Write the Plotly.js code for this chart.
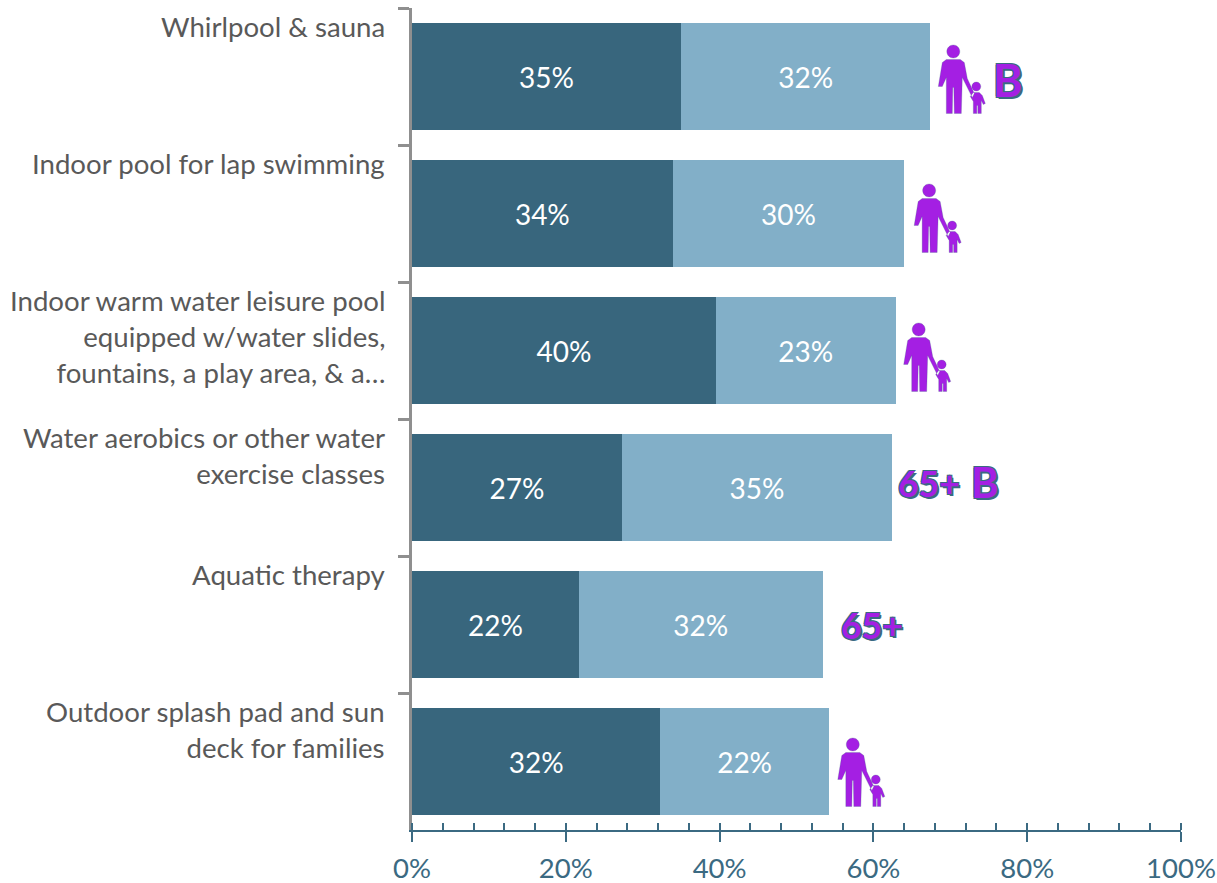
<!DOCTYPE html>
<html>
<head>
<meta charset="utf-8">
<script src="https://cdn.plot.ly/plotly-3.0.1.min.js"></script>
<style>html,body{margin:0;padding:0;background:#fff}</style>
</head>
<body>
<div id="chart" style="width:1217px;height:883px"></div>
<script>
var categories = ["Whirlpool & sauna", "Indoor pool for lap swimming",
  "Indoor warm water leisure pool<br>equipped w/water slides,<br>fountains, a play area, & a…",
  "Water aerobics or other water<br>exercise classes", "Aquatic therapy",
  "Outdoor splash pad and sun<br>deck for families"];
var darkValues = [35.0, 33.9, 39.5, 27.3, 21.7, 32.3];
var lightValues = [32.4, 30.1, 23.4, 35.1, 31.7, 21.9];
var familyIconRows = [0, 1, 2, 5];
var iconDx = [8, 10, 8, 9];
var iconDy = [-31, -29, -27, -23];
var badgeRows = [0, 3, 3, 4];
var badgeTexts = ["B", "65+", "B", "65+"];
var badgeDx = [61, 4, 77, 16];
var badgeDy = [-3, 4, 6, -1];
var badgeSizes = [45, 35.5, 42, 35.5];

var DARK = "#38667D", LIGHT = "#82AFC8", TEAL = "#3B6A82", PURPLE = "#A41FE3";
var SHADOW = "2px 2px 0 #3A6A82, -1px -1px 0 #3A6A82, 1px -1px 0 #3A6A82, -1px 1px 0 #3A6A82";

function circle(cx, cy, r) {
  var k = r * 0.5523;
  return "M" + (cx - r) + " " + cy + " C" + (cx - r) + " " + (cy - k) + " " + (cx - k) + " " + (cy - r) + " " + cx + " " + (cy - r) +
    " C" + (cx + k) + " " + (cy - r) + " " + (cx + r) + " " + (cy - k) + " " + (cx + r) + " " + cy +
    " C" + (cx + r) + " " + (cy + k) + " " + (cx + k) + " " + (cy + r) + " " + cx + " " + (cy + r) +
    " C" + (cx - k) + " " + (cy + r) + " " + (cx - r) + " " + (cy + k) + " " + (cx - r) + " " + cy + " Z ";
}
function familyPath(dx, dy) {
  var pts = function (a) {
    return "M" + a.map(function (p) { return (p[0] + dx) + " " + (-(p[1] + dy)); }).join(" L") + " Z ";
  };
  return circle(15 + dx, -(6 + dy), 6.5) +
    pts([[8, 14], [22, 14], [26, 17], [29, 33], [36, 48], [34, 52], [27, 38], [24, 32], [23, 68], [16, 68], [15.5, 42], [14.5, 42], [14, 68], [8, 68], [8, 32], [4, 41], [0, 41], [4, 17]]) +
    circle(38 + dx, -(41 + dy), 4.5) +
    pts([[35, 47], [41, 47], [44, 50], [47, 58], [45, 59], [43, 55], [43, 68], [39.5, 68], [39.5, 60], [38.5, 60], [38.5, 68], [35, 68], [35, 56], [32, 51]]);
}

var shapes = familyIconRows.map(function (row, i) {
  return {
    type: "path", xref: "x", yref: "y", xsizemode: "pixel", ysizemode: "pixel",
    xanchor: darkValues[row] + lightValues[row], yanchor: row,
    path: familyPath(iconDx[i], iconDy[i]),
    fillcolor: PURPLE, line: { color: "rgba(58,106,130,0.5)", width: 0.5 }
  };
});

var annotations = categories.map(function (c, i) {
  return {
    text: c, xref: "x", yref: "y", x: 0, y: i, xanchor: "right", yanchor: "top", align: "right",
    xshift: -25, yshift: 69, showarrow: false,
    font: { family: "Lato, sans-serif", size: 27.6, color: "#595959" }
  };
}).concat(badgeRows.map(function (row, i) {
  return {
    text: "<b>" + badgeTexts[i] + "</b>", xref: "x", yref: "y",
    x: darkValues[row] + lightValues[row], y: row, xanchor: "left", yanchor: "middle",
    xshift: badgeDx[i], yshift: badgeDy[i], showarrow: false,
    font: { family: "Lato, sans-serif", size: badgeSizes[i], color: PURPLE, shadow: SHADOW }
  };
}));

var common = {
  y: categories, type: "bar", orientation: "h", xaxis: "x", yaxis: "y",
  texttemplate: "%{x:.0f}%", textposition: "inside", insidetextanchor: "middle", constraintext: "none",
  textangle: 0, insidetextfont: { family: "Lato, sans-serif", size: 28, color: "#FFFFFF" },
  hoverinfo: "x+y"
};
var dark = Object.assign({}, common, { x: darkValues, name: "Dark", marker: { color: DARK } });
var light = Object.assign({}, common, { x: lightValues, name: "Light", marker: { color: LIGHT } });
var ghost = { x: [0, 100], y: [categories[0], categories[0]], type: "scatter", mode: "none", xaxis: "x2", yaxis: "y", showlegend: false, hoverinfo: "skip" };

var layout = {
  width: 1217, height: 883, barmode: "stack", bargap: 0.226, showlegend: false,
  margin: { l: 412, r: 36, t: 8.4, b: 52.6, pad: 0 },
  paper_bgcolor: "#fff", plot_bgcolor: "#fff",
  xaxis: {
    range: [0, 100], tickvals: [0, 20, 40, 60, 80, 100], ticktext: ["0%", "20%", "40%", "60%", "80%", "100%"],
    ticks: "outside", ticklen: 10, tickwidth: 2, tickcolor: TEAL, ticklabelstandoff: 3,
    showline: true, linecolor: TEAL, linewidth: 2, showgrid: false, zeroline: false,
    tickfont: { family: "Lato, sans-serif", size: 27.5, color: TEAL },
    minor: { dtick: 4, tick0: 0, ticks: "inside", ticklen: 7, tickwidth: 2, tickcolor: TEAL, showgrid: false },
    fixedrange: true
  },
  xaxis2: {
    overlaying: "x", anchor: "y", side: "bottom", range: [0, 100], tickvals: [0, 20, 40, 60, 80, 100],
    ticks: "inside", ticklen: 7, tickwidth: 2, tickcolor: TEAL, showticklabels: false, showgrid: false, zeroline: false
  },
  yaxis: {
    type: "category", categoryorder: "array", categoryarray: categories, range: [5.5, -0.5],
    tickson: "boundaries", ticks: "outside", ticklen: 11, tickwidth: 3, tickcolor: "#8F8F8F",
    showline: true, linecolor: "#8F8F8F", linewidth: 3, showticklabels: false, showgrid: false, zeroline: false
  },
  shapes: shapes, annotations: annotations
};
Plotly.newPlot("chart", [dark, light, ghost], layout, { displayModeBar: false, staticPlot: true });
</script>
</body>
</html>
